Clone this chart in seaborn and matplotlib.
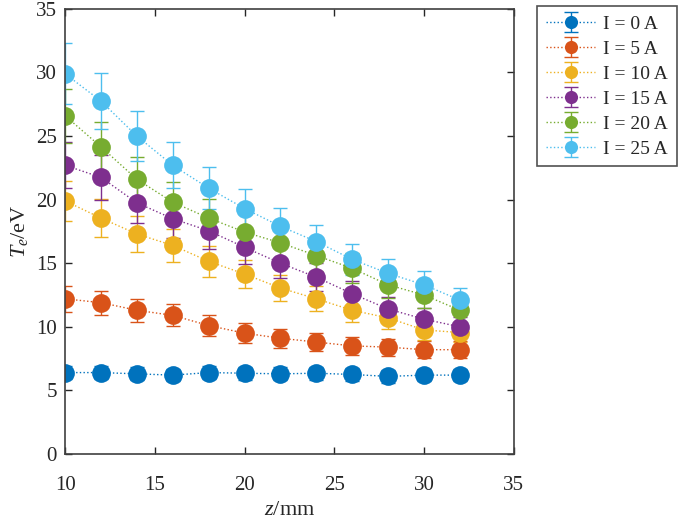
import numpy as np
import pandas as pd
import seaborn as sns
import matplotlib.pyplot as plt

# data
z = [10, 12, 14, 16, 18, 20, 22, 24, 26, 28, 30, 32]
currents = ["I = 0 A", "I = 5 A", "I = 10 A", "I = 15 A", "I = 20 A", "I = 25 A"]

te_0 = [6.4, 6.4, 6.3, 6.2, 6.4, 6.35, 6.3, 6.35, 6.25, 6.1, 6.2, 6.2]
te_5 = [12.2, 11.9, 11.3, 10.9, 10.1, 9.5, 9.1, 8.8, 8.5, 8.4, 8.2, 8.2]
te_10 = [19.9, 18.55, 17.3, 16.4, 15.15, 14.15, 13.05, 12.2, 11.3, 10.7, 9.75, 9.55]
te_15 = [22.7, 21.75, 19.75, 18.5, 17.55, 16.25, 15.0, 13.9, 12.6, 11.4, 10.6, 10.0]
te_20 = [26.6, 24.15, 21.6, 19.8, 18.55, 17.45, 16.6, 15.6, 14.6, 13.3, 12.5, 11.3]
te_25 = [29.9, 27.75, 25.0, 22.7, 20.9, 19.3, 17.9, 16.7, 15.3, 14.2, 13.3, 12.1]

err_0 = [0.5, 0.5, 0.5, 0.5, 0.5, 0.5, 0.5, 0.5, 0.5, 0.5, 0.5, 0.5]
err_5 = [1.0, 0.95, 0.9, 0.87, 0.8, 0.76, 0.73, 0.7, 0.68, 0.67, 0.66, 0.66]
err_10 = [1.6, 1.5, 1.4, 1.3, 1.2, 1.13, 1.05, 0.98, 0.9, 0.86, 0.78, 0.76]
err_15 = [1.8, 1.74, 1.58, 1.48, 1.4, 1.3, 1.2, 1.1, 1.0, 0.91, 0.85, 0.8]
err_20 = [2.13, 1.93, 1.73, 1.58, 1.48, 1.4, 1.33, 1.25, 1.17, 1.06, 1.0, 0.9]
err_25 = [2.4, 2.22, 2.0, 1.82, 1.67, 1.54, 1.43, 1.34, 1.22, 1.14, 1.06, 0.97]

te_all = [te_0, te_5, te_10, te_15, te_20, te_25]
err_all = [err_0, err_5, err_10, err_15, err_20, err_25]

# matlab default colour order
colors = ["#0072BD", "#D95319", "#EDB120", "#7E2F8E", "#77AC30", "#4DBEEE"]

sns.set_theme(style="ticks")
plt.rcParams["font.family"] = ["Liberation Serif", "DejaVu Serif"]
plt.rcParams["mathtext.fontset"] = "custom"
plt.rcParams["mathtext.rm"] = "Liberation Serif"
plt.rcParams["mathtext.it"] = "Liberation Serif:italic"

fig = plt.figure(figsize=(6.85, 5.23), dpi=100)
ax = fig.add_axes([0.095, 0.132, 0.655, 0.851])

palette = sns.color_palette(colors)
for label, te, err, c in zip(currents, te_all, err_all, palette):
    ax.errorbar(z, te, yerr=err, fmt="o:", color=c, lw=1.0, ms=13.5,
                mec="none", elinewidth=1.0, capsize=4.7, capthick=1.0,
                ecolor=c, label=label)

ax.set_xlim(10, 35)
ax.set_ylim(0, 35)
ax.set_xticks([10, 15, 20, 25, 30, 35])
ax.set_yticks([0, 5, 10, 15, 20, 25, 30, 35])
ax.tick_params(direction="in", length=5, width=1, colors="#262626",
               labelsize=15, top=True, right=True, pad=6)
ax.tick_params(axis="x", pad=16)
for s in ax.spines.values():
    s.set_color("#404040")
    s.set_linewidth(1.2)

ax.set_xlabel("$z$/mm", fontsize=16, color="#262626", labelpad=4)
ax.set_ylabel("$T_e$/eV", fontsize=16, color="#262626", labelpad=4)

handles, labels = ax.get_legend_handles_labels()
leg = fig.legend(handles, labels, loc="upper left", bbox_to_anchor=(0.784, 0.988),
                 fontsize=14, frameon=True, fancybox=False, edgecolor="#262626",
                 markerscale=0.7, handlelength=2.55, handletextpad=0.4,
                 borderpad=0.45, labelspacing=0.38, borderaxespad=0.0)
leg.get_frame().set_linewidth(1.2)

fig.savefig("out.png", dpi=100)
